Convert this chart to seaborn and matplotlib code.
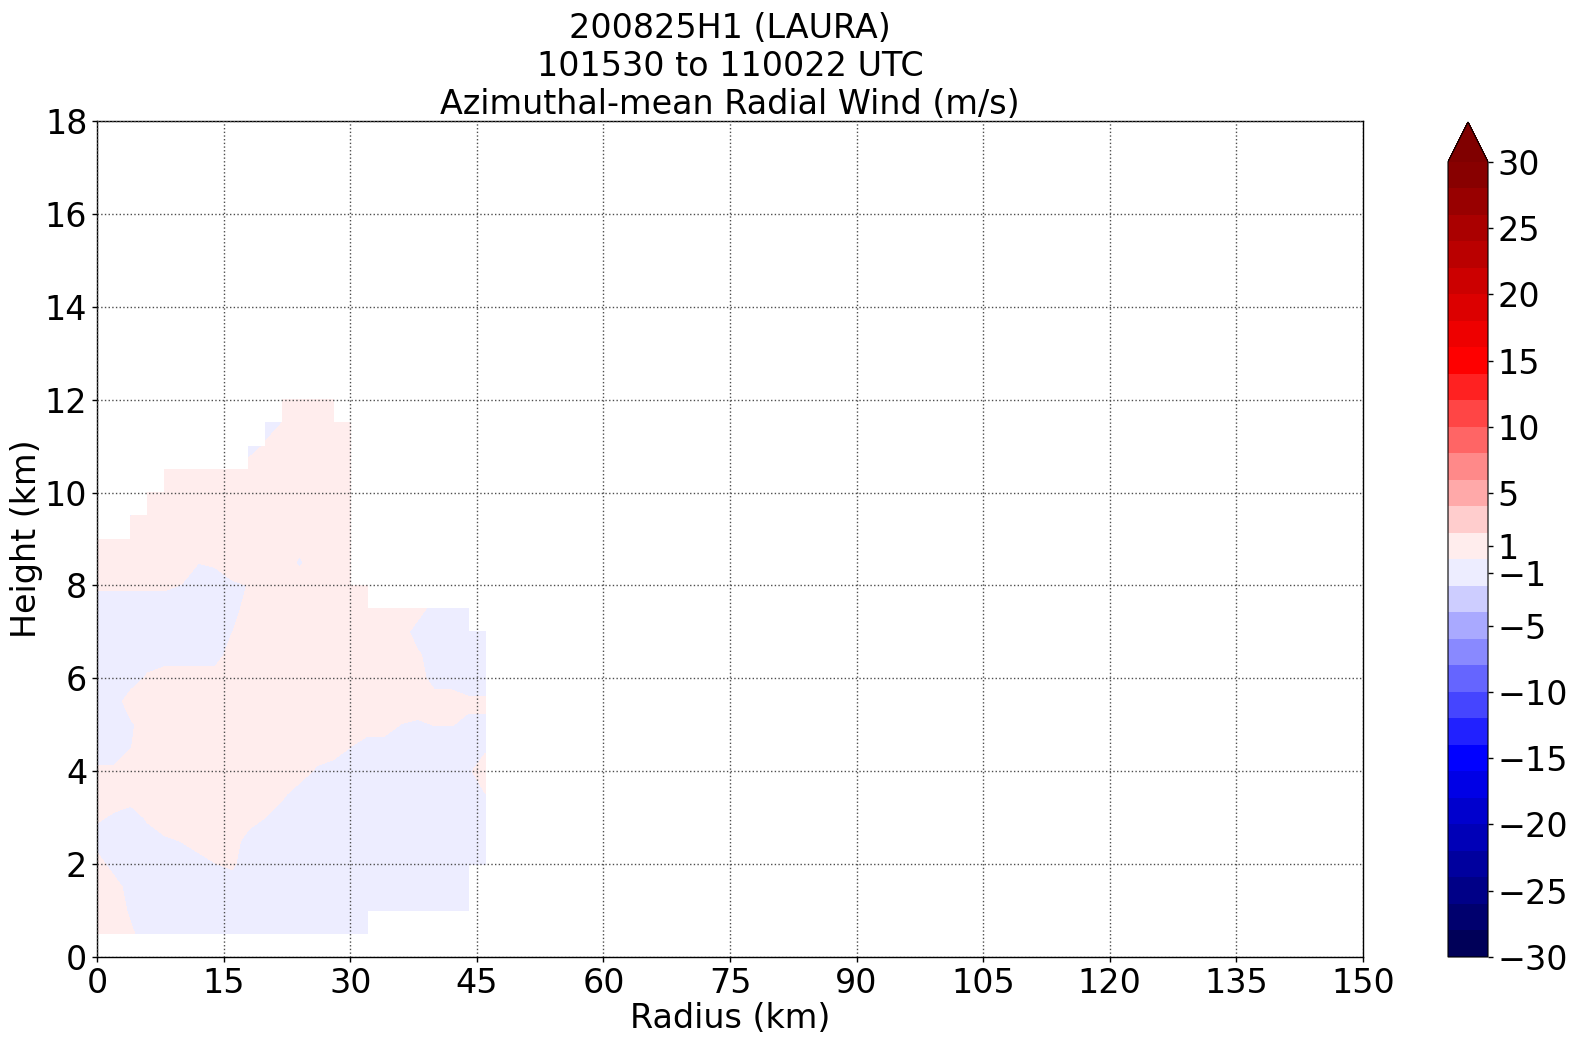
import numpy as np
import matplotlib
matplotlib.use("Agg")
import matplotlib.pyplot as plt
import seaborn as sns

# --- chart data ---
title_lines = ["200825H1 (LAURA)", "101530 to 110022 UTC", "Azimuthal-mean Radial Wind (m/s)"]

radius_km = [0, 2, 4, 6, 8, 10, 12, 14, 16, 18, 20, 22,
             24, 26, 28, 30, 32, 34, 36, 38, 40, 42, 44, 46]
height_km = [12.0, 11.5, 11.0, 10.5, 10.0, 9.5, 9.0, 8.5, 8.0, 7.5, 7.0, 6.5,
             6.0, 5.5, 5.0, 4.5, 4.0, 3.5, 3.0, 2.5, 2.0, 1.5, 1.0, 0.5]

# one string per height (top to bottom), one symbol per radius
# P/N strong +/-, p/n weak, o/u barely +/-, '.' no data
wind_rows = [
    "...........PPPP.........",  # 12.0
    "..........NoPPPP........",  # 11.5
    ".........NpPPPPP........",  # 11.0
    "....PPPPPPPPPPPP........",  # 10.5
    "...PPPPPPPPPPPPP........",  # 10.0
    "..uPPPPPPPPPPPPP........",  # 9.5
    "PPPPPPPPPPPPPPPP........",  # 9.0
    "PPPPPPopPPPPnPPP........",  # 8.5
    "pppppuNNnoPPPPPPP.......",  # 8.0
    "NNNNNNNNNPPPPPPPPPPPNNN.",  # 7.5
    "NNNNNNNNuPPPPPPPPPPNNNNN",  # 7.0
    "NNNNNNNNPPPPPPPPPPPpNNNN",  # 6.5
    "NNNpPPPPPPPPPPPPPPPPNNNN",  # 6.0
    "NNPPPPPPPPPPPPPPPPPPPPpp",  # 5.5
    "NNnPPPPPPPPPPPPPPPunoonn",  # 5.0
    "NNuPPPPPPPPPPPPuNNNNNNNn",  # 4.5
    "ppPPPPPPPPPPPnNNNNNNNNnP",  # 4.0
    "PPPPPPPPPPPpNNNNNNNNNNNu",  # 3.5
    "pnNpPPPPPPuNNNNNNNNNNNNN",  # 3.0
    "NNNNnoPPPNNNNNNNNNNNNNNN",  # 2.5
    "PNNNNNNupNNNNNNNNNNNNNNN",  # 2.0
    "PPNNNNNNNNNNNNNNNNNNNNN.",  # 1.5
    "PPnNNNNNNNNNNNNNNNNNNNN.",  # 1.0
    "PPpNNNNNNNNNNNNNN.......",  # 0.5
]
symbol_value = {"P": 1.0, "p": 0.3, "o": 0.05, "u": -0.05,
                "n": -0.3, "N": -1.0, ".": np.nan}

levels = [-30, -28, -26, -24, -22, -20, -18, -16, -14, -12, -10, -8, -6, -4, -2, 0,
          2, 4, 6, 8, 10, 12, 14, 16, 18, 20, 22, 24, 26, 28, 30]
cbar_ticks = [-30, -25, -20, -15, -10, -5, -1, 1, 5, 10, 15, 20, 25, 30]
x_ticks = [0, 15, 30, 45, 60, 75, 90, 105, 120, 135, 150]
y_ticks = [0, 2, 4, 6, 8, 10, 12, 14, 16, 18]

# --- style ---
sns.set_style("ticks", {"axes.edgecolor": "black", "text.color": "black",
                        "xtick.color": "black", "ytick.color": "black",
                        "axes.labelcolor": "black"})
plt.rcParams["font.family"] = ["DejaVu Sans"]

wind = np.array([[symbol_value[c] for c in row] for row in wind_rows])
wind = np.ma.masked_invalid(wind[::-1])
heights = np.array(height_km[::-1])

fig = plt.figure(figsize=(15.74, 10.45), dpi=100)
ax = fig.add_axes([97 / 1574, 1 - 957 / 1045, (1363 - 97) / 1574, (957 - 121) / 1045])
cax = fig.add_axes([1448 / 1574, 1 - 957 / 1045, 40 / 1574, (957 - 122) / 1045])

cmap = sns.color_palette("seismic", as_cmap=True)
cs = ax.contourf(radius_km, heights, wind, levels=levels, cmap=cmap,
                 extend="max", corner_mask=False)

ax.set_xlim(0, 150)
ax.set_ylim(0, 18)
ax.set_xticks(x_ticks)
ax.set_yticks(y_ticks)
ax.tick_params(labelsize=24, length=3.5, width=1)
ax.set_axisbelow(False)
ax.grid(True, linestyle=":", color="0.3", linewidth=1.0)
for sp in ax.spines.values():
    sp.set_linewidth(1.0)
ax.set_xlabel("Radius (km)", fontsize=24, labelpad=2)
ax.set_ylabel("Height (km)", fontsize=24, labelpad=1)
ax.set_title("\n".join(title_lines), fontsize=24, pad=3)

cbar = fig.colorbar(cs, cax=cax, ticks=cbar_ticks)
cbar.ax.tick_params(labelsize=24, length=3.5, width=1)

fig.savefig("out.png", dpi=100)
